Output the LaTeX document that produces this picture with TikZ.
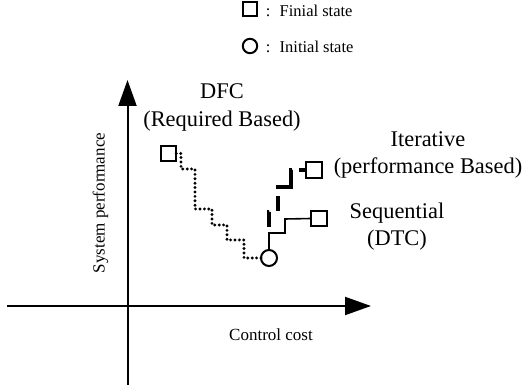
\documentclass[tikz,border=0pt]{standalone}
\usepackage{fontspec}
\setmainfont{Liberation Serif}
\usetikzlibrary{arrows.meta}
\begin{document}
\begin{tikzpicture}[x=0.5pt,y=-0.5pt,
  bigtxt/.style={font=\fontsize{11.2}{13}\selectfont,inner sep=0pt,anchor=base},
  smalltxt/.style={font=\fontsize{8.5}{10}\selectfont,inner sep=0pt},
  legtxt/.style={font=\fontsize{8.25}{10}\selectfont,inner sep=0pt,anchor=base west},
  finalsq/.style={draw,line width=1pt,minimum size=7.8pt,inner sep=0pt,outer sep=0pt},
  initcirc/.style={draw,circle,line width=1pt,minimum size=8pt,inner sep=0pt,outer sep=0pt},
  axis/.style={line width=1pt,-{Triangle[length=13pt,width=9pt]}},
  dotline/.style={line width=1.6pt,line cap=round,dash pattern=on 0pt off 2.2pt},
  dashline/.style={line width=1.6pt,dash pattern=on 7.5pt off 5pt on 7.5pt off 3.5pt on 16.5pt off 3.5pt on 3.5pt off 11.5pt,dash phase=47pt},
  seqline/.style={line width=0.8pt}]
\useasboundingbox (0,0) rectangle (525,389);
% legend
\node[finalsq,minimum size=7pt] (lsq) at (250,9.5) {};
\node[legtxt] (lsqt) at (265.5,17) {:\hspace{4.6pt}Finial state};
\node[initcirc,minimum size=7.2pt] (lci) at (250,46) {};
\node[legtxt] (lcit) at (265.5,53) {:\hspace{4.6pt}Initial state};
% axes
\coordinate (ybot) at (127.5,385);
\coordinate (ytop) at (127.5,80);
\coordinate (xleft) at (7,306);
\coordinate (xright) at (371,306);
\draw[axis] (ybot) -- (ytop);
\draw[axis] (xleft) -- (xright);
\node[smalltxt,rotate=90] (ylab) at (100.5,203) {System performance};
\node[smalltxt,anchor=base] (xlab) at (271,341) {Control cost};
% states
\node[initcirc] (init) at (269,258) {};
\node[finalsq] (dfc) at (168.5,153.5) {};
\node[finalsq] (itr) at (314,170) {};
\node[finalsq] (seq) at (319,218.5) {};
% paths
\draw[dotline] (dfc.east) -- (181,153.5) -- (181,169) -- (195,169) -- (195,209) -- (212,209) -- (212,225) -- (227,225) -- (227,240) -- (244,240) |- (init.west);
\draw[seqline] (init.north) -- (269,233) -- (285,233) -- (285,219) -- (seq.west);
\draw[dashline] (init.north) -- (269,212) -- (278,212) -- (278,187) -- (291,187) -- (291,170) -- (itr.west);
% labels
\node[bigtxt] (dfcA) at (222,99) {DFC};
\node[bigtxt] (dfcB) at (222,126.5) {(Required Based)};
\node[bigtxt] (itA) at (428,147) {Iterative};
\node[bigtxt] (itB) at (428,174) {(performance Based)};
\node[bigtxt] (sqA) at (397,219) {Sequential};
\node[bigtxt] (sqB) at (397,246) {(DTC)};
\end{tikzpicture}
\end{document}
